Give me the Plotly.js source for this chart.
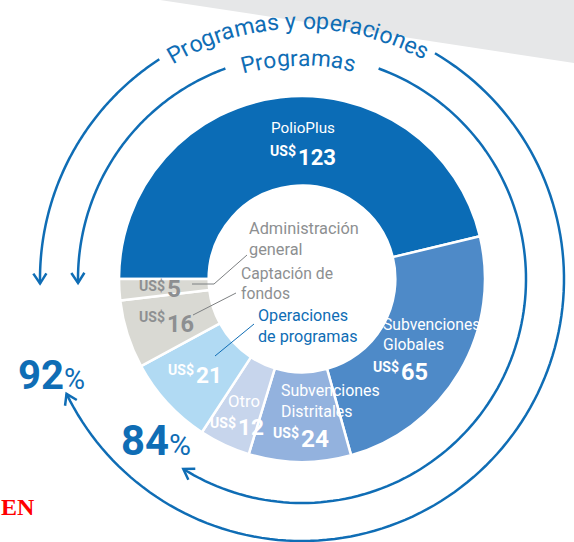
<!DOCTYPE html>
<html><head><meta charset="utf-8">
<script src="https://cdn.plot.ly/plotly-3.0.1.min.js"></script>
<style>html,body{margin:0;padding:0;background:#fff}#chart{width:574px;height:542px}</style>
</head><body><div id="chart"></div>
<script>
// ---------------- DATA ----------------
const categories = ['PolioPlus', 'Subvenciones Globales', 'Subvenciones Distritales', 'Otro',
                    'Operaciones de programas', 'Captación de fondos', 'Administración general'];
const amounts = [123, 65, 24, 12, 21, 16, 5];
const currency = 'US$';
const shares = [92, 84];                       // % programas y operaciones, % programas
const arcTitles = ['Programas y operaciones', 'Programas'];
const sliceNameLines = [['PolioPlus'], ['Subvenciones', 'Globales'], ['Subvenciones', 'Distritales'], ['Otro'], [], [], []];
const holeNameLines = [['Administración', 'general'], ['Captación de', 'fondos'], ['Operaciones', 'de programas']];
const cornerText = 'EN';

// ---------------- STYLE / GEOMETRY ----------------
const W = 574, H = 542;
const FONT = "Roboto, 'Liberation Sans', sans-serif";
const CX = 302, CY = 279, R = 183;
const BLUE = '#0f6db5', GRAYTXT = '#8d8f91', LEADGRAY = '#7d8082';
const sliceColors = ['#0b6cb6', '#4e8ac8', '#93b2de', '#c7d5ec', '#b1daf3', '#d9d9d3', '#d9d9d3'];
const px = x => x / W, py = y => 1 - y / H;

const cv = document.createElement('canvas').getContext('2d');
function fit(text, target, weight) {
  cv.font = (weight || 400) + ' 100px ' + FONT;
  return 100 * target / cv.measureText(text).width;
}

const annotations = [];
function T(text, x, y, size, color, anchor, weight, extra) {
  annotations.push(Object.assign({
    text: text, x: px(x), y: py(y), xref: 'paper', yref: 'paper', showarrow: false,
    xanchor: anchor || 'center', yanchor: 'middle', borderpad: 0, align: 'left',
    font: { family: FONT, size: size, color: color, weight: weight || 400 }
  }, extra || {}));
}
// block of lines whose first baseline is b1 and line step is step
function block(lines, x, b1, step, targets, color, anchor) {
  const sizes = lines.map((l, k) => fit(l, targets[k]));
  const fs = Math.min(19, sizes.reduce((a, b) => a + b, 0) / sizes.length);
  const bMid = b1 + step * (lines.length - 1) / 2;
  T(lines.join('<br>'), x, bMid - 0.35 * fs, fs, color, anchor);
}

// slice names: [x, anchor, first baseline, step, target widths]
const nameStyle = [
  [303, 'center', 133, 19, [64]],
  [382, 'left', 331, 18, [96, 62]],
  [280, 'left', 397, 20, [98, 72]],
  [244, 'center', 407, 18, [32]]
];
sliceNameLines.forEach((lines, i) => {
  if (!lines.length) return;
  const s = nameStyle[i];
  block(lines, s[0], s[2], s[3], s[4], '#ffffff', s[1]);
});

// value labels: [split x, number baseline, number width, US$ top]
const valStyle = [
  [297, 165, 38, 146],
  [400, 380, 27, 362],
  [300, 447, 28, 428],
  [237, 435, 26, 418],
  [195, 383, 26, 365],
  [166, 332, 27, 312],
  [166, 297, 14, 281]
];
const usSize = fit(currency, 26, 700);
amounts.forEach((v, i) => {
  const s = valStyle[i];
  const col = i >= 5 ? GRAYTXT : '#ffffff';
  const ns = fit(String(v), s[2], 700);
  T(currency, s[0], s[3] + 0.366 * usSize, usSize, col, 'right', 700);
  T(String(v), s[0], s[1] - 0.35 * ns, ns, col, 'left', 700);
});

// hole labels: [x, first baseline, targets, color]
const holeStyle = [[248, 236, [109, 54], GRAYTXT], [240, 280, [94, 48], GRAYTXT], [257, 322.5, [90, 100], BLUE]];
holeNameLines.forEach((lines, i) => {
  const s = holeStyle[i];
  block(lines, s[0], s[1], 18, s[2], s[3], 'left');
});

// percentages: [x, baseline, number width, % width]
const pctStyle = [[17, 390, 46, 21], [120, 455, 48, 22]];
shares.forEach((p, i) => {
  const [x, b, wn, wp] = pctStyle[i];
  const ns = fit(String(p), wn, 700), ps = fit('%', wp, 400);
  T(String(p) + '<span style="font-size:' + ps.toFixed(1) + 'px;font-weight:400">%</span>',
    x, b - 0.35 * ns, ns, BLUE, 'left', 700);
});

// corner text
annotations.push({ text: cornerText, x: px(37), y: py(507), xref: 'paper', yref: 'paper', showarrow: false,
  xanchor: 'right', yanchor: 'middle', font: { family: "'Liberation Serif', 'DejaVu Serif', serif", size: 24, color: '#ff0000', weight: 700 } });

// curved titles, one character per annotation along the arc
function arcText(str, rb, centerDeg, arcLen, color) {
  const fs = fit(str, arcLen);
  cv.font = '400 ' + fs + 'px ' + FONT;
  const widths = [...str].map(c => cv.measureText(c).width);
  const total = widths.reduce((a, b) => a + b, 0);
  const rc = rb + 0.35 * fs;
  const start = centerDeg + (total / rb) * 90 / Math.PI;
  let cum = 0;
  [...str].forEach((c, i) => {
    const a = start - (cum + widths[i] / 2) / rb * 180 / Math.PI;
    cum += widths[i];
    if (c === ' ') return;
    const t = a * Math.PI / 180;
    T(c, CX + rc * Math.cos(t), CY - rc * Math.sin(t), fs, color, 'center', 400, { textangle: 90 - a });
  });
}
arcText(arcTitles[0], 250, 91, 262, BLUE);
arcText(arcTitles[1], 213, 91, 111, BLUE);

// ---------------- SHAPES ----------------
const shapes = [];
shapes.push({ type: 'path', xref: 'paper', yref: 'paper', layer: 'below',
  path: `M ${px(160)} ${py(0)} L ${px(W)} ${py(63)} L ${px(W)} ${py(0)} Z`, fillcolor: '#e6e7e8', line: { width: 0 } });

function arcShape(r, a0, a1) {
  const n = 120, pts = [];
  for (let k = 0; k <= n; k++) {
    const t = (a0 + (a1 - a0) * k / n) * Math.PI / 180;
    pts.push([CX + r * Math.cos(t), CY - r * Math.sin(t)]);
  }
  shapes.push({ type: 'path', xref: 'paper', yref: 'paper', layer: 'above',
    path: 'M ' + pts.map(p => px(p[0]) + ' ' + py(p[1])).join(' L '), line: { color: BLUE, width: 2.5 } });
  // chevron arrowhead at end
  const te = a1 * Math.PI / 180, s = Math.sign(a1 - a0);
  const d = [-Math.sin(te) * s, -Math.cos(te) * s];
  const P = pts[pts.length - 1], L = 12, ang = 33 * Math.PI / 180;
  const rot = (v, g) => [v[0] * Math.cos(g) - v[1] * Math.sin(g), v[0] * Math.sin(g) + v[1] * Math.cos(g)];
  const a = rot(d, ang), b = rot(d, -ang);
  const A = [P[0] - L * a[0], P[1] - L * a[1]], B = [P[0] - L * b[0], P[1] - L * b[1]];
  shapes.push({ type: 'path', xref: 'paper', yref: 'paper', layer: 'above',
    path: `M ${px(A[0])} ${py(A[1])} L ${px(P[0])} ${py(P[1])} L ${px(B[0])} ${py(B[1])}`, line: { color: BLUE, width: 2.5 } });
}
arcShape(262, 123, 181);
arcShape(262, 59.5, -154);
arcShape(224, 110, 181);
arcShape(224, 70, -122);

function seg(x0, y0, x1, y1, color) {
  shapes.push({ type: 'line', xref: 'paper', yref: 'paper', layer: 'above',
    x0: px(x0), y0: py(y0), x1: px(x1), y1: py(y1), line: { color: color, width: 1 } });
}
seg(247, 255, 214, 284, LEADGRAY); seg(214, 284, 192, 284, LEADGRAY);
seg(236, 293, 193, 315, LEADGRAY);
seg(254, 324, 215, 356, BLUE);

// ---------------- PLOT ----------------
const trace = {
  type: 'pie', labels: categories, values: amounts, sort: false, direction: 'clockwise', rotation: 270,
  hole: 0.51, textinfo: 'none', hoverinfo: 'none',
  marker: { colors: sliceColors, line: { color: '#ffffff', width: 2.5 } },
  domain: { x: [(CX - R) / W, (CX + R) / W], y: [1 - (CY + R) / H, 1 - (CY - R) / H] }
};
Plotly.newPlot('chart', [trace], {
  width: W, height: H, margin: { l: 0, r: 0, t: 0, b: 0 }, showlegend: false,
  paper_bgcolor: '#ffffff', annotations: annotations, shapes: shapes
}, { displayModeBar: false, staticPlot: true });
</script></body></html>
